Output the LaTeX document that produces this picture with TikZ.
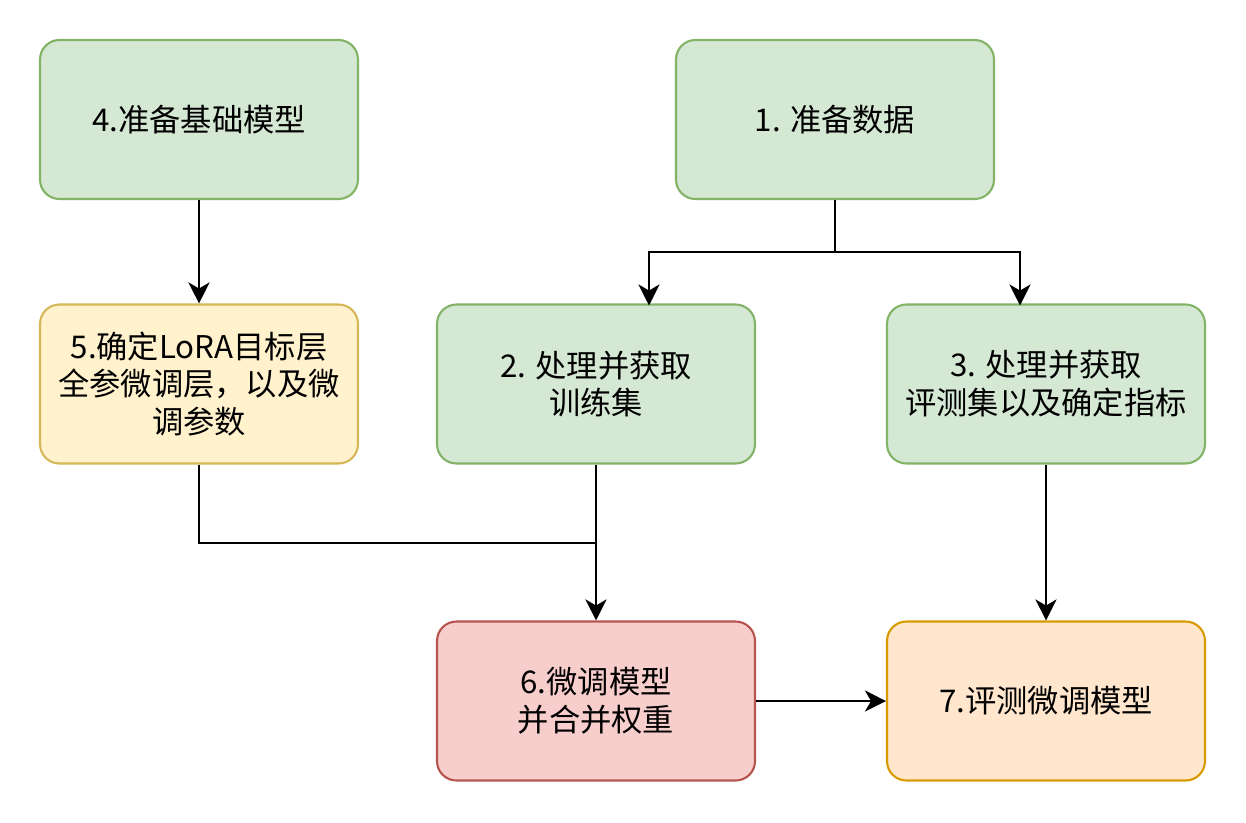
\documentclass[tikz,border=0pt]{standalone}
\usepackage{fontspec}
\setmainfont{Noto Sans CJK SC}
\usetikzlibrary{arrows.meta}
\definecolor{greenfill}{HTML}{D5E8D4}
\definecolor{greenline}{HTML}{82B366}
\definecolor{yellowfill}{HTML}{FFF2CC}
\definecolor{yellowline}{HTML}{D6B656}
\definecolor{redfill}{HTML}{F8CECC}
\definecolor{redline}{HTML}{B85450}
\definecolor{orangefill}{HTML}{FFE6CC}
\definecolor{orangeline}{HTML}{D79B00}
\begin{document}
\begin{tikzpicture}[x=0.02cm,y=-0.02cm,line width=1.2pt,
    main node/.style={rectangle,rounded corners=11pt,draw,line width=1.2pt,minimum width=6.36cm,minimum height=3.18cm,align=center,font=\fontsize{17.8}{21.5}\selectfont},
    green node/.style={main node,fill=greenfill,draw=greenline},
    arr/.style={-{Stealth[length=12pt,width=12pt,inset=3.5pt]}}]
        \useasboundingbox (0,0) rectangle (1246,822);
        \node[green node] at (199, 119.5) (n4) {4.准备基础模型};
        \node[green node] at (835, 119.5) (n1) {1. 准备数据};
        \node[main node,fill=yellowfill,draw=yellowline] at (199, 384) (n5) {5.确定LoRA目标层\\全参微调层，以及微\\调参数};
        \node[green node] at (596, 384) (n2) {2. 处理并获取\\训练集};
        \node[green node] at (1046, 384) (n3) {3. 处理并获取\\评测集以及确定指标};
        \node[main node,fill=redfill,draw=redline] at (596, 701) (n6) {6.微调模型\\并合并权重};
        \node[main node,fill=orangefill,draw=orangeline] at (1046, 701) (n7) {7.评测微调模型};

        \coordinate (split) at (835, 252);
        \coordinate (in2) at (649, 305.5);
        \coordinate (in3) at (1020, 305.5);
        \coordinate (join) at (596, 543);

        \draw[arr] (n4) -- (n5);
        \draw[arr] (n1.south) -- (split) -| (in2);
        \draw[arr] (split) -| (in3);
        \draw (n5.south) |- (join);
        \draw[arr] (n2) -- (n6);
        \draw[arr] (n3) -- (n7);
        \draw[arr] (n6) -- (n7);
    \end{tikzpicture}
\end{document}
